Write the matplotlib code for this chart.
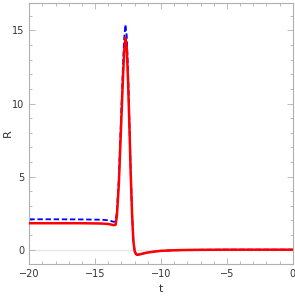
import matplotlib
matplotlib.use("Agg")
import matplotlib.pyplot as plt
from matplotlib.ticker import MultipleLocator

# curve values
t_red = [-20, -18, -16, -14.5, -14, -13.8, -13.6, -13.45, -13.35, -13.2, -13.05,
         -12.9, -12.8, -12.7, -12.6, -12.5, -12.4, -12.3, -12.2, -12.1, -12.0,
         -11.9, -11.8, -11.6, -11.3, -11.0, -10.5, -10.0, -9.0, -8.0, -7.0, -5.0, 0.0]
R_red = [1.81, 1.81, 1.81, 1.79, 1.76, 1.72, 1.68, 1.70, 2.3, 4.5, 8.0,
         11.5, 13.5, 14.5, 13.8, 11.5, 8.5, 5.2, 2.5, 0.6, -0.1,
         -0.3, -0.35, -0.32, -0.25, -0.19, -0.13, -0.08, -0.04, -0.02, -0.01, 0.0, 0.0]

t_blue = [-20, -18, -16, -14.5, -14, -13.8, -13.6, -13.45, -13.35, -13.2, -13.05,
          -12.9, -12.8, -12.7, -12.6, -12.5, -12.4, -12.3, -12.2, -12.1, -12.0,
          -11.9, -11.8, -11.6, -11.3, -11.0, -10.5, -10.0, -9.0, -8.0, -7.0, -5.0, 0.0]
R_blue = [2.08, 2.08, 2.07, 2.05, 2.01, 1.96, 1.91, 1.93, 2.6, 4.9, 8.6,
          12.3, 14.4, 15.4, 14.6, 12.1, 8.8, 5.4, 2.6, 0.6, -0.1,
          -0.3, -0.35, -0.32, -0.25, -0.19, -0.13, -0.08, -0.04, -0.02, -0.01, 0.0, 0.0]

fig = plt.figure(figsize=(2.95, 2.96), dpi=100)
ax = fig.add_axes([29.3 / 295, 32 / 296, (292.7 - 29.3) / 295, (264 - 2.7) / 296])

ax.axhline(0, color="#e6e6e6", lw=1.0, zorder=1)
ax.plot(t_blue, R_blue, color="blue", lw=1.3, ls=(0, (3, 1.5)), zorder=2)
ax.plot(t_red, R_red, color="red", lw=1.8, zorder=3)

ax.set_xlim(-20, 0)
ax.set_ylim(-0.98, 16.9)
ax.xaxis.set_major_locator(MultipleLocator(5))
ax.xaxis.set_minor_locator(MultipleLocator(1))
ax.yaxis.set_major_locator(MultipleLocator(5))
ax.yaxis.set_minor_locator(MultipleLocator(1))

for s in ax.spines.values():
    s.set_color("#b0b0b0")
    s.set_linewidth(0.8)
ax.tick_params(which="both", direction="in", top=True, right=True, colors="#b0b0b0",
               labelcolor="#333333", labelsize=7, width=0.6)
ax.tick_params(which="major", length=4)
ax.tick_params(which="minor", length=2)
ax.set_xticks([-20, -15, -10, -5, 0])
ax.set_xticklabels(["\u221220", "\u221215", "\u221210", "\u22125", "0"])
ax.set_xlabel("t", fontsize=8, color="#333333", labelpad=4)
fig.text(8 / 295, 1 - 133 / 296, "R", rotation=90, ha="center", va="center",
         fontsize=8, color="#333333")

fig.savefig("out.png", dpi=100)
